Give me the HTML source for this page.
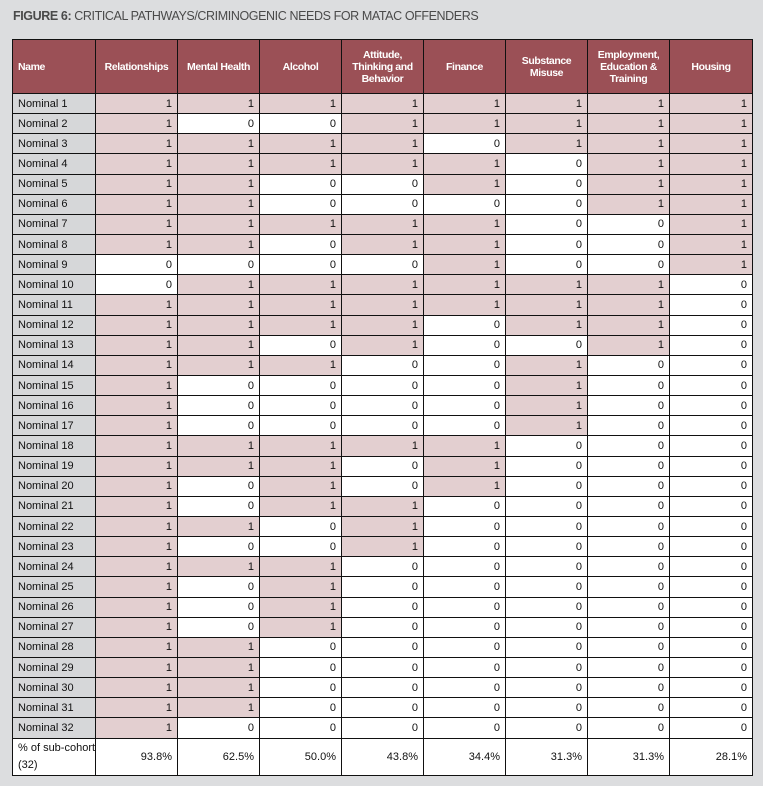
<!DOCTYPE html>
<html><head><style>
body{margin:0;width:763px;height:786px;background:#dcdddf;font-family:"Liberation Sans",sans-serif;position:relative;overflow:hidden}
.t{position:absolute;left:13px;top:9px;font-size:12.5px;color:#4a4a4a;letter-spacing:-0.4px}
.t b{color:#4a4a4a}
table{position:absolute;left:12px;top:39px;border-collapse:collapse;table-layout:fixed;width:740px;font-size:11px;color:#111}
td,th{border:1.5px solid #111;padding:0 5px;overflow:hidden;white-space:nowrap}
th{background:#9b5056;color:#fff;font-size:10.5px;height:53px;text-align:center;line-height:12px;white-space:normal;letter-spacing:-0.4px}
th.n{text-align:left}
td{height:19.15px;text-align:right;background:#fff}
td.n{text-align:left;background:#d6d7d9}
td.p{background:#e3cfd0}
tr.last td{height:36px;background:#fff;text-align:right}
tr.last td.n{text-align:left;line-height:17px}
</style></head><body>
<div class="t"><b>FIGURE 6:</b> CRITICAL PATHWAYS/CRIMINOGENIC NEEDS FOR MATAC OFFENDERS</div>
<table>
<colgroup><col style="width:83px"><col style="width:82px"><col style="width:82px"><col style="width:82px"><col style="width:82px"><col style="width:82px"><col style="width:82px"><col style="width:82px"><col style="width:83px"></colgroup>
<tr><th class="n">Name</th><th>Relationships</th><th>Mental Health</th><th>Alcohol</th><th>Attitude, Thinking and Behavior</th><th>Finance</th><th>Substance Misuse</th><th>Employment, Education &amp; Training</th><th>Housing</th></tr>
<tr><td class="n">Nominal 1</td><td class="p">1</td><td class="p">1</td><td class="p">1</td><td class="p">1</td><td class="p">1</td><td class="p">1</td><td class="p">1</td><td class="p">1</td></tr>
<tr><td class="n">Nominal 2</td><td class="p">1</td><td>0</td><td>0</td><td class="p">1</td><td class="p">1</td><td class="p">1</td><td class="p">1</td><td class="p">1</td></tr>
<tr><td class="n">Nominal 3</td><td class="p">1</td><td class="p">1</td><td class="p">1</td><td class="p">1</td><td>0</td><td class="p">1</td><td class="p">1</td><td class="p">1</td></tr>
<tr><td class="n">Nominal 4</td><td class="p">1</td><td class="p">1</td><td class="p">1</td><td class="p">1</td><td class="p">1</td><td>0</td><td class="p">1</td><td class="p">1</td></tr>
<tr><td class="n">Nominal 5</td><td class="p">1</td><td class="p">1</td><td>0</td><td>0</td><td class="p">1</td><td>0</td><td class="p">1</td><td class="p">1</td></tr>
<tr><td class="n">Nominal 6</td><td class="p">1</td><td class="p">1</td><td>0</td><td>0</td><td>0</td><td>0</td><td class="p">1</td><td class="p">1</td></tr>
<tr><td class="n">Nominal 7</td><td class="p">1</td><td class="p">1</td><td class="p">1</td><td class="p">1</td><td class="p">1</td><td>0</td><td>0</td><td class="p">1</td></tr>
<tr><td class="n">Nominal 8</td><td class="p">1</td><td class="p">1</td><td>0</td><td class="p">1</td><td class="p">1</td><td>0</td><td>0</td><td class="p">1</td></tr>
<tr><td class="n">Nominal 9</td><td>0</td><td>0</td><td>0</td><td>0</td><td class="p">1</td><td>0</td><td>0</td><td class="p">1</td></tr>
<tr><td class="n">Nominal 10</td><td>0</td><td class="p">1</td><td class="p">1</td><td class="p">1</td><td class="p">1</td><td class="p">1</td><td class="p">1</td><td>0</td></tr>
<tr><td class="n">Nominal 11</td><td class="p">1</td><td class="p">1</td><td class="p">1</td><td class="p">1</td><td class="p">1</td><td class="p">1</td><td class="p">1</td><td>0</td></tr>
<tr><td class="n">Nominal 12</td><td class="p">1</td><td class="p">1</td><td class="p">1</td><td class="p">1</td><td>0</td><td class="p">1</td><td class="p">1</td><td>0</td></tr>
<tr><td class="n">Nominal 13</td><td class="p">1</td><td class="p">1</td><td>0</td><td class="p">1</td><td>0</td><td>0</td><td class="p">1</td><td>0</td></tr>
<tr><td class="n">Nominal 14</td><td class="p">1</td><td class="p">1</td><td class="p">1</td><td>0</td><td>0</td><td class="p">1</td><td>0</td><td>0</td></tr>
<tr><td class="n">Nominal 15</td><td class="p">1</td><td>0</td><td>0</td><td>0</td><td>0</td><td class="p">1</td><td>0</td><td>0</td></tr>
<tr><td class="n">Nominal 16</td><td class="p">1</td><td>0</td><td>0</td><td>0</td><td>0</td><td class="p">1</td><td>0</td><td>0</td></tr>
<tr><td class="n">Nominal 17</td><td class="p">1</td><td>0</td><td>0</td><td>0</td><td>0</td><td class="p">1</td><td>0</td><td>0</td></tr>
<tr><td class="n">Nominal 18</td><td class="p">1</td><td class="p">1</td><td class="p">1</td><td class="p">1</td><td class="p">1</td><td>0</td><td>0</td><td>0</td></tr>
<tr><td class="n">Nominal 19</td><td class="p">1</td><td class="p">1</td><td class="p">1</td><td>0</td><td class="p">1</td><td>0</td><td>0</td><td>0</td></tr>
<tr><td class="n">Nominal 20</td><td class="p">1</td><td>0</td><td class="p">1</td><td>0</td><td class="p">1</td><td>0</td><td>0</td><td>0</td></tr>
<tr><td class="n">Nominal 21</td><td class="p">1</td><td>0</td><td class="p">1</td><td class="p">1</td><td>0</td><td>0</td><td>0</td><td>0</td></tr>
<tr><td class="n">Nominal 22</td><td class="p">1</td><td class="p">1</td><td>0</td><td class="p">1</td><td>0</td><td>0</td><td>0</td><td>0</td></tr>
<tr><td class="n">Nominal 23</td><td class="p">1</td><td>0</td><td>0</td><td class="p">1</td><td>0</td><td>0</td><td>0</td><td>0</td></tr>
<tr><td class="n">Nominal 24</td><td class="p">1</td><td class="p">1</td><td class="p">1</td><td>0</td><td>0</td><td>0</td><td>0</td><td>0</td></tr>
<tr><td class="n">Nominal 25</td><td class="p">1</td><td>0</td><td class="p">1</td><td>0</td><td>0</td><td>0</td><td>0</td><td>0</td></tr>
<tr><td class="n">Nominal 26</td><td class="p">1</td><td>0</td><td class="p">1</td><td>0</td><td>0</td><td>0</td><td>0</td><td>0</td></tr>
<tr><td class="n">Nominal 27</td><td class="p">1</td><td>0</td><td class="p">1</td><td>0</td><td>0</td><td>0</td><td>0</td><td>0</td></tr>
<tr><td class="n">Nominal 28</td><td class="p">1</td><td class="p">1</td><td>0</td><td>0</td><td>0</td><td>0</td><td>0</td><td>0</td></tr>
<tr><td class="n">Nominal 29</td><td class="p">1</td><td class="p">1</td><td>0</td><td>0</td><td>0</td><td>0</td><td>0</td><td>0</td></tr>
<tr><td class="n">Nominal 30</td><td class="p">1</td><td class="p">1</td><td>0</td><td>0</td><td>0</td><td>0</td><td>0</td><td>0</td></tr>
<tr><td class="n">Nominal 31</td><td class="p">1</td><td class="p">1</td><td>0</td><td>0</td><td>0</td><td>0</td><td>0</td><td>0</td></tr>
<tr><td class="n">Nominal 32</td><td class="p">1</td><td>0</td><td>0</td><td>0</td><td>0</td><td>0</td><td>0</td><td>0</td></tr>
<tr class="last"><td class="n">% of sub-cohort<br>(32)</td><td>93.8%</td><td>62.5%</td><td>50.0%</td><td>43.8%</td><td>34.4%</td><td>31.3%</td><td>31.3%</td><td>28.1%</td></tr>
</table>
</body></html>
